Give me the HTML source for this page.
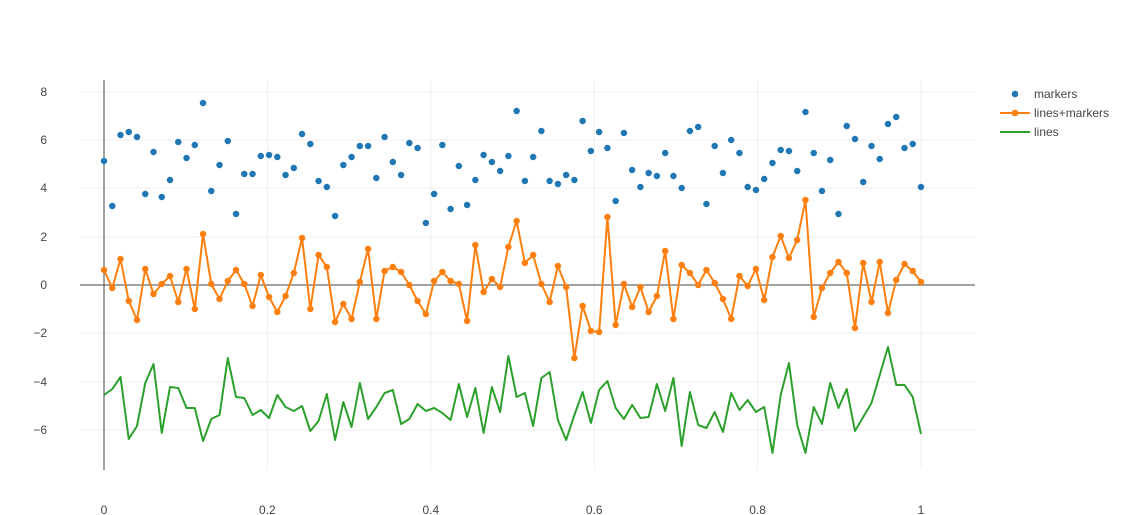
<!DOCTYPE html>
<html><head><meta charset="utf-8"><style>
html,body{margin:0;padding:0;background:#fff;}
svg{display:block;font-family:"Liberation Sans",sans-serif;}
</style></head><body>
<svg width="1140" height="515" viewBox="0 0 1140 515">
<g stroke="#eee" stroke-width="1">
<line x1="80" x2="975" y1="92" y2="92"/><line x1="80" x2="975" y1="140" y2="140"/>
<line x1="80" x2="975" y1="188" y2="188"/><line x1="80" x2="975" y1="237" y2="237"/>
<line x1="80" x2="975" y1="333" y2="333"/><line x1="80" x2="975" y1="382" y2="382"/>
<line x1="80" x2="975" y1="430" y2="430"/>
<line x1="267.4" x2="267.4" y1="80" y2="470"/><line x1="430.8" x2="430.8" y1="80" y2="470"/>
<line x1="594.2" x2="594.2" y1="80" y2="470"/><line x1="757.6" x2="757.6" y1="80" y2="470"/>
<line x1="921" x2="921" y1="80" y2="470"/>
</g>
<line x1="80" x2="975" y1="285" y2="285" stroke="#444" stroke-width="1"/>
<line x1="104" x2="104" y1="80" y2="470" stroke="#444" stroke-width="1"/>
<g fill="#444" font-size="12" text-anchor="end">
<text x="47" y="96">8</text><text x="47" y="144">6</text><text x="47" y="192">4</text>
<text x="47" y="241">2</text><text x="47" y="289">0</text><text x="47" y="337">−2</text>
<text x="47" y="386">−4</text><text x="47" y="434">−6</text>
</g>
<g fill="#444" font-size="12" text-anchor="middle">
<text x="104" y="514">0</text><text x="267.4" y="514">0.2</text><text x="430.8" y="514">0.4</text>
<text x="594.2" y="514">0.6</text><text x="757.6" y="514">0.8</text><text x="921" y="514">1</text>
</g>
<g transform="translate(104,0) scale(8.2525,1)" fill="none">
<polyline vector-effect="non-scaling-stroke" stroke="#2ca02c" stroke-width="2" stroke-linejoin="round" points="0,395 1,389 2,377 3,439 4,426 5,383 6,364 7,433 8,387 9,388 10,408 11,408 12,441 13,419 14,415 15,358 16,397 17,398 18,415 19,410 20,418 21,395 22,407 23,411 24,406 25,431 26,421 27,394 28,440 29,402 30,427 31,383 32,419 33,407 34,393 35,390 36,424 37,419 38,404 39,411 40,408 41,413 42,420 43,384 44,417 45,388 46,433 47,387 48,412 49,356 50,397 51,393 52,426 53,378 54,372 55,420 56,440 57,415 58,392 59,423 60,390 61,381 62,408 63,419 64,405 65,418 66,417 67,384 68,411 69,378 70,446 71,392 72,425 73,428 74,412 75,432 76,393 77,410 78,400 79,412 80,407 81,453 82,395 83,363 84,425 85,453 86,407 87,424 88,383 89,408 90,389 91,431 92,417 93,403 94,375 95,347 96,385 97,385 98,397 99,434"/>
<polyline vector-effect="non-scaling-stroke" stroke="#ff7f0e" stroke-width="2" stroke-linejoin="round" points="0,270 1,288 2,259 3,301 4,320 5,269 6,294 7,284 8,276 9,302 10,269 11,309 12,234 13,284 14,299 15,281 16,270 17,284 18,306 19,275 20,297 21,312 22,296 23,273 24,238 25,309 26,255 27,267 28,322 29,304 30,319 31,282 32,249 33,319 34,271 35,267 36,272 37,285 38,301 39,314 40,281 41,272 42,281 43,284 44,321 45,245 46,292 47,279 48,287 49,247 50,221 51,263 52,255 53,284 54,302 55,266 56,287 57,358 58,306 59,331 60,332 61,217 62,325 63,284 64,307 65,287 66,312 67,296 68,251 69,319 70,265 71,273 72,285 73,270 74,283 75,299 76,319 77,276 78,286 79,269 80,300 81,257 82,236 83,258 84,240 85,200 86,317 87,288 88,273 89,262 90,273 91,328 92,263 93,302 94,262 95,313 96,280 97,264 98,271 99,282"/>
<path vector-effect="non-scaling-stroke" stroke="#ff7f0e" stroke-width="6.5" stroke-linecap="round" d="M0 270h0M1 288h0M2 259h0M3 301h0M4 320h0M5 269h0M6 294h0M7 284h0M8 276h0M9 302h0M10 269h0M11 309h0M12 234h0M13 284h0M14 299h0M15 281h0M16 270h0M17 284h0M18 306h0M19 275h0M20 297h0M21 312h0M22 296h0M23 273h0M24 238h0M25 309h0M26 255h0M27 267h0M28 322h0M29 304h0M30 319h0M31 282h0M32 249h0M33 319h0M34 271h0M35 267h0M36 272h0M37 285h0M38 301h0M39 314h0M40 281h0M41 272h0M42 281h0M43 284h0M44 321h0M45 245h0M46 292h0M47 279h0M48 287h0M49 247h0M50 221h0M51 263h0M52 255h0M53 284h0M54 302h0M55 266h0M56 287h0M57 358h0M58 306h0M59 331h0M60 332h0M61 217h0M62 325h0M63 284h0M64 307h0M65 287h0M66 312h0M67 296h0M68 251h0M69 319h0M70 265h0M71 273h0M72 285h0M73 270h0M74 283h0M75 299h0M76 319h0M77 276h0M78 286h0M79 269h0M80 300h0M81 257h0M82 236h0M83 258h0M84 240h0M85 200h0M86 317h0M87 288h0M88 273h0M89 262h0M90 273h0M91 328h0M92 263h0M93 302h0M94 262h0M95 313h0M96 280h0M97 264h0M98 271h0M99 282h0"/>
<path vector-effect="non-scaling-stroke" stroke="#1f77b4" stroke-width="6.5" stroke-linecap="round" d="M0 161h0M1 206h0M2 135h0M3 132h0M4 137h0M5 194h0M6 152h0M7 197h0M8 180h0M9 142h0M10 158h0M11 145h0M12 103h0M13 191h0M14 165h0M15 141h0M16 214h0M17 174h0M18 174h0M19 156h0M20 155h0M21 157h0M22 175h0M23 168h0M24 134h0M25 144h0M26 181h0M27 187h0M28 216h0M29 165h0M30 157h0M31 146h0M32 146h0M33 178h0M34 137h0M35 162h0M36 175h0M37 143h0M38 148h0M39 223h0M40 194h0M41 145h0M42 209h0M43 166h0M44 205h0M45 180h0M46 155h0M47 162h0M48 171h0M49 156h0M50 111h0M51 181h0M52 157h0M53 131h0M54 181h0M55 184h0M56 175h0M57 180h0M58 121h0M59 151h0M60 132h0M61 148h0M62 201h0M63 133h0M64 170h0M65 187h0M66 173h0M67 176h0M68 153h0M69 176h0M70 188h0M71 131h0M72 127h0M73 204h0M74 146h0M75 173h0M76 140h0M77 153h0M78 187h0M79 190h0M80 179h0M81 163h0M82 150h0M83 151h0M84 171h0M85 112h0M86 153h0M87 191h0M88 160h0M89 214h0M90 126h0M91 139h0M92 182h0M93 146h0M94 159h0M95 124h0M96 117h0M97 148h0M98 144h0M99 187h0"/>
</g>
<circle cx="1015" cy="94" r="3.3" fill="#1f77b4"/>
<line x1="1000" x2="1030" y1="113" y2="113" stroke="#ff7f0e" stroke-width="2"/>
<circle cx="1015" cy="113" r="3.3" fill="#ff7f0e"/>
<line x1="1000" x2="1030" y1="132" y2="132" stroke="#2ca02c" stroke-width="2"/>
<g fill="#444" font-size="12">
<text x="1034" y="98">markers</text><text x="1034" y="117">lines+markers</text><text x="1034" y="136">lines</text>
</g>
</svg>
</body></html>
